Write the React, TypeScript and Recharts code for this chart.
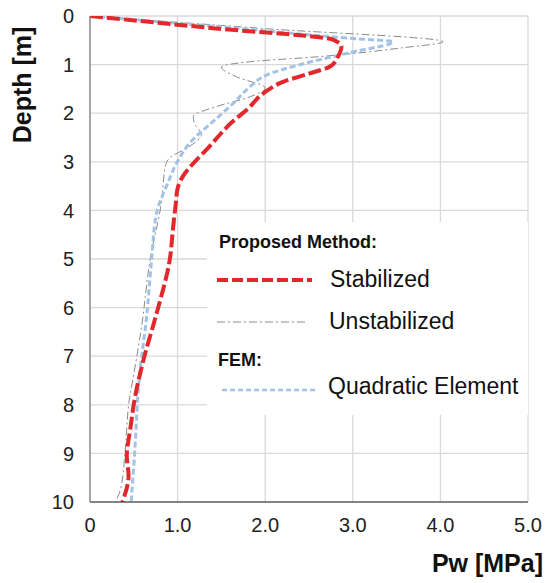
import React from 'react';
import { LineChart, Line, XAxis, YAxis, CartesianGrid, Legend } from 'recharts';

const FONT = '"Liberation Sans", Arial, sans-serif';

const depthTicks = [0, 1, 2, 3, 4, 5, 6, 7, 8, 9, 10];
const pwTicks = [0, 1, 2, 3, 4, 5];

const stabilizedDepth = [0, 0.25, 0.49, 0.63, 0.84, 1.04, 1.18, 1.35, 1.59, 1.93, 2.12, 2.75, 3.05, 3.3, 3.55, 3.85, 4.33, 5.02, 6.12, 7.08, 7.88, 8.5, 9.05, 9.46, 10];
const stabilizedPw = [0, 1.4, 2.78, 2.87, 2.83, 2.74, 2.51, 2.21, 1.98, 1.79, 1.66, 1.33, 1.17, 1.06, 1.0, 0.98, 0.95, 0.91, 0.76, 0.61, 0.51, 0.46, 0.42, 0.44, 0.37];

const unstabilizedDepth = [0, 0.26, 0.53, 0.66, 0.84, 0.94, 1.05, 1.25, 1.48, 1.66, 1.86, 2.07, 2.2, 2.44, 2.68, 2.92, 3.09, 3.78, 5.08, 6.38, 7.47, 7.88, 8.98, 9.73, 10];
const unstabilizedPw = [0, 2.0, 4.03, 3.54, 2.59, 1.83, 1.5, 1.67, 2.0, 1.83, 1.45, 1.18, 1.19, 1.27, 1.14, 0.91, 0.86, 0.82, 0.68, 0.59, 0.49, 0.45, 0.4, 0.35, 0.29];

const quadraticDepth = [0, 0.26, 0.46, 0.53, 0.75, 1.0, 1.21, 1.45, 1.79, 2.1, 2.61, 3.02, 3.43, 4.06, 5.08, 6.12, 7.5, 8.98, 10];
const quadraticPw = [0, 1.72, 2.97, 3.46, 2.97, 2.4, 2.02, 1.83, 1.64, 1.45, 1.14, 0.99, 0.89, 0.76, 0.7, 0.65, 0.56, 0.51, 0.47];

const toRows = (depths: number[], pws: number[]) => depths.map((d, i) => ({ depth: d, pw: pws[i] }));

const stabilizedData = toRows(stabilizedDepth, stabilizedPw);
const unstabilizedData = toRows(unstabilizedDepth, unstabilizedPw);
const quadraticData = toRows(quadraticDepth, quadraticPw);

const RED = '#e3282c';
const GRAY = '#8a8a8a';
const BLUE = '#a3c3e6';

const renderLegend = () => (
  <svg width={321} height={193} style={{ display: 'block', fontFamily: FONT }}>
    <text x={12} y={26} fontSize={18} fontWeight="bold" fill="#111">Proposed Method:</text>
    <line x1={10} y1={58} x2={105} y2={58} stroke={RED} strokeWidth={4} strokeDasharray="11 4" />
    <text x={123} y={65} fontSize={23} fill="#111">Stabilized</text>
    <line x1={10} y1={100} x2={101} y2={100} stroke={GRAY} strokeWidth={1} strokeDasharray="8 3 2 3" />
    <text x={122} y={107} fontSize={23} fill="#111">Unstabilized</text>
    <text x={11} y={144} fontSize={18} fontWeight="bold" fill="#111">FEM:</text>
    <line x1={15} y1={168} x2={108} y2={168} stroke={BLUE} strokeWidth={2.5} strokeDasharray="5 3" />
    <text x={121} y={172} fontSize={23} fill="#111">Quadratic Element</text>
  </svg>
);

const renderYLabel = (props: any) => {
  const vb = props.viewBox || { x: 0, y: 16 };
  const x = vb.x + 31;
  const y = vb.y + 69;
  return (
    <text x={x} y={y} transform={`rotate(-90, ${x}, ${y})`} textAnchor="middle" fontSize={25} fontWeight="bold" fill="#111" fontFamily={FONT}>
      Depth [m]
    </text>
  );
};

const renderXLabel = (props: any) => {
  const vb = props.viewBox || { x: 90, y: 502, width: 438, height: 81 };
  const x = vb.x + vb.width + 15;
  const y = vb.y + 70;
  return (
    <text x={x} y={y} textAnchor="end" fontSize={25} fontWeight="bold" fill="#111" fontFamily={FONT}>
      Pw [MPa]
    </text>
  );
};

export default function App() {
  return (
    <div style={{ position: 'absolute', left: 0, top: 0, background: '#fff' }}>
      <LineChart
        width={555}
        height={583}
        layout="vertical"
        margin={{ top: 16, right: 27, bottom: 0, left: 0 }}
        style={{ fontFamily: FONT }}
      >
        <CartesianGrid stroke="#d9d9d9" strokeWidth={1.3} />
        <XAxis
          type="number"
          dataKey="pw"
          domain={[0, 5]}
          ticks={pwTicks}
          allowDataOverflow
          height={81}
          tickSize={0}
          tickMargin={16}
          tickLine={false}
          axisLine={{ stroke: '#262626', strokeWidth: 1.2 }}
          tick={{ fontSize: 20, fill: '#222', fontFamily: FONT }}
          tickFormatter={(v: number) => (v === 0 ? '0' : v.toFixed(1))}
          label={{ content: renderXLabel }}
        />
        <YAxis
          type="number"
          dataKey="depth"
          domain={[0, 10]}
          ticks={depthTicks}
          allowDataOverflow
          width={90}
          tickSize={0}
          tickMargin={16}
          tickLine={false}
          axisLine={{ stroke: '#7a7a7a', strokeWidth: 1.2 }}
          tick={{ fontSize: 20, fill: '#222', fontFamily: FONT }}
          label={{ content: renderYLabel }}
        />
        <Legend
          verticalAlign="middle"
          align="center"
          content={renderLegend}
          wrapperStyle={{ left: 207, top: 222, width: 321, height: 193, background: '#fff', margin: 0, padding: 0 }}
        />
        <Line
          data={unstabilizedData}
          dataKey="pw"
          name="Unstabilized"
          type="monotone"
          stroke={GRAY}
          strokeWidth={1}
          strokeDasharray="8 3 2 3"
          dot={false}
          activeDot={false}
          isAnimationActive={false}
        />
        <Line
          data={quadraticData}
          dataKey="pw"
          name="Quadratic Element"
          type="monotone"
          stroke={BLUE}
          strokeWidth={3}
          strokeDasharray="6 3"
          dot={false}
          activeDot={false}
          isAnimationActive={false}
        />
        <Line
          data={stabilizedData}
          dataKey="pw"
          name="Stabilized"
          type="monotone"
          stroke={RED}
          strokeWidth={4}
          strokeDasharray="13 4"
          dot={false}
          activeDot={false}
          isAnimationActive={false}
        />
      </LineChart>
    </div>
  );
}
